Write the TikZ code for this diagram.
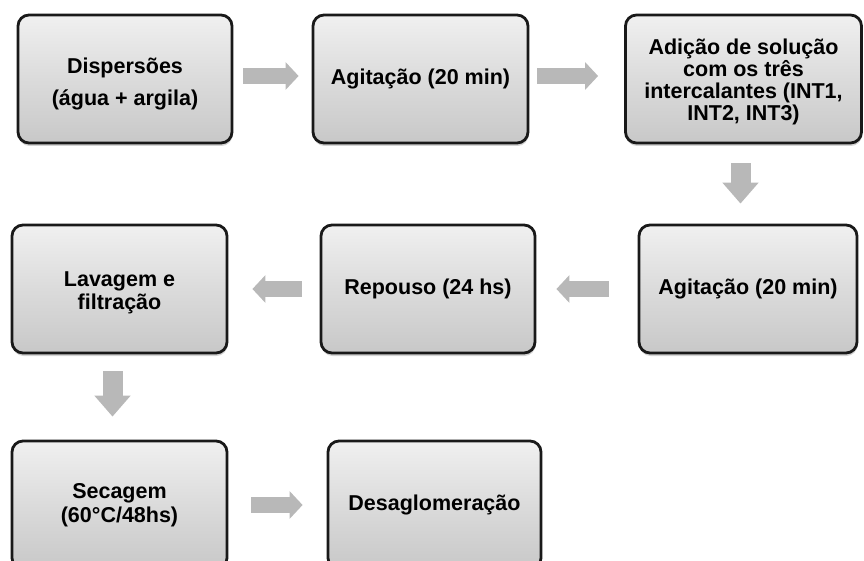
\documentclass[tikz,border=0pt]{standalone}
\usepackage{fontspec}
\setmainfont{Liberation Sans}
\usetikzlibrary{shadows,arrows.meta,calc}
\definecolor{arrgray}{RGB}{184,184,184}
\definecolor{boxtop}{RGB}{240,240,240}
\definecolor{boxmid}{RGB}{219,219,219}
\definecolor{boxbot}{RGB}{200,200,200}
\begin{document}
\begin{tikzpicture}[x=1pt,y=-1pt,
  box/.style={draw=black!90, line width=2.8pt, rounded corners=11pt,
    top color=boxtop, bottom color=boxbot, middle color=boxmid,
    drop shadow={opacity=0.35,shadow xshift=0.5pt,shadow yshift=-3pt},
    align=center, inner sep=0pt, minimum height=128pt,
    font=\fontsize{21.5}{23}\selectfont\bfseries},
  harr/.style={draw=arrgray, line width=16pt, -{Triangle[width=27pt,length=13pt]}},
  varr/.style={draw=arrgray, line width=20pt, -{Triangle[width=35pt,length=21pt]}}]
\useasboundingbox (0,0) rectangle (864,561);
\node[box, minimum width=214pt] (b1) at (125,79) {\rule{0pt}{25pt}Dispersões\\[9pt](água + argila)};
\node[box, minimum width=215pt] (b2) at (420.5,79) {Agitação (20 min)};
\node[box, minimum width=236pt, font=\fontsize{21.5}{22}\selectfont\bfseries] (b3) at (743.5,79)
  {\rule{0pt}{22pt}Adição de solução\\com os três\\intercalantes (INT1,\\INT2, INT3)};
\node[box, minimum width=215pt] (b4) at (119.5,289) {\rule{0pt}{22pt}Lavagem e\\filtração};
\node[box, minimum width=214pt] (b5) at (428,289) {Repouso (24 hs)};
\node[box, minimum width=218pt] (b6) at (748,289) {Agitação (20 min)};
\node[box, minimum width=215pt, font=\fontsize{21.5}{24}\selectfont\bfseries] (b7) at (119.5,505) {Secagem\\(60°C/48hs)};
\node[box, minimum width=213pt] (b8) at (434.5,505) {Desaglomeração};
% connectors
\draw[harr] ([xshift=10pt,yshift=3pt]b1.east) -- ([xshift=-13pt,yshift=3pt]b2.west);
\draw[harr] ([xshift=8pt,yshift=3pt]b2.east) -- ([xshift=-26pt,yshift=3pt]b3.west);
\draw[varr] ([xshift=-3pt,yshift=-19pt]b3.south) -- ([xshift=-3pt,yshift=20pt]b3.south |- b6.north);
\draw[harr] ([xshift=-29pt]b6.west) -- ([xshift=20pt]b5.east);
\draw[harr] ([xshift=-18pt]b5.west) -- ([xshift=24pt]b4.east);
\draw[varr] ([xshift=-7pt,yshift=-17pt]b4.south) -- ([xshift=-7pt,yshift=23pt]b4.south |- b7.north);
\draw[harr] ([xshift=23pt]b7.east) -- ([xshift=-24pt]b8.west);
\end{tikzpicture}
\end{document}
